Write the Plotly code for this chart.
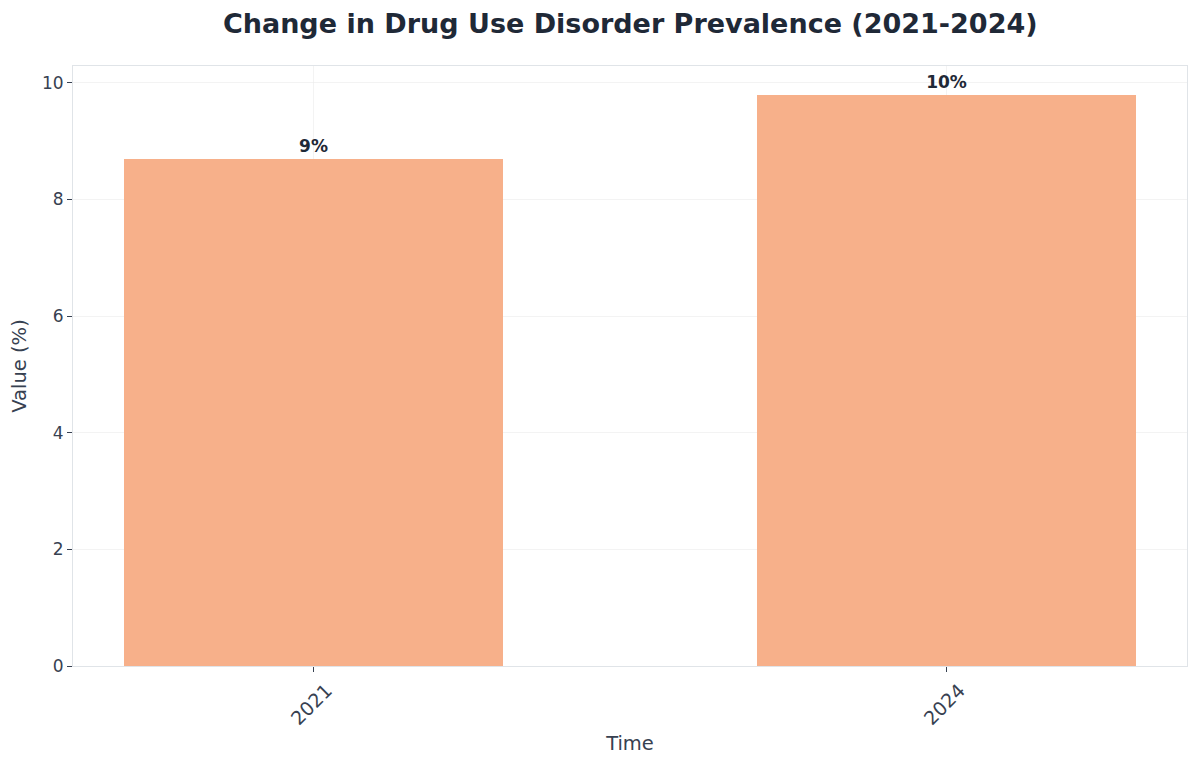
import plotly.graph_objects as go

categories = ["2021", "2024"]
values = [8.7, 9.8]
x_positions = [0, 1]

fig = go.Figure()
fig.add_trace(go.Bar(
    x=x_positions,
    y=values,
    width=0.6,
    marker=dict(color="rgb(247,176,138)", line=dict(width=0)),
    texttemplate="<b>%{y:.0f}%</b>",
    textposition="outside",
    cliponaxis=False,
    textfont=dict(family="DejaVu Sans", size=17, color="#1f2937"),
    hoverinfo="skip",
))

# page body adds an 8px offset; compensate in size and margins
fig.update_layout(
    width=1192, height=760,
    margin=dict(l=65, r=13, t=58, b=102),
    paper_bgcolor="white",
    plot_bgcolor="white",
    font=dict(family="DejaVu Sans", color="#374151", size=17),
    title=dict(
        text="<b>Change in Drug Use Disorder Prevalence (2021-2024)</b>",
        x=0.522, xanchor="center", y=0.980, yanchor="middle",
        font=dict(family="DejaVu Sans", size=27, color="#1f2937"),
    ),
    showlegend=False,
    bargap=0,
)

fig.update_xaxes(
    range=[-0.38, 1.38],
    tickmode="array", tickvals=x_positions, ticktext=categories,
    tickangle=-45,
    ticklabelshift=13,
    tickfont=dict(size=19, color="#374151"),
    ticks="outside", ticklen=5, tickcolor="#374151",
    showgrid=True, gridcolor="rgba(235,235,235,0.6)", gridwidth=1,
    showline=True, linecolor="#e0e4e8", linewidth=1, mirror=True,
    layer="above traces",
    zeroline=False,
    automargin=False,
    title=dict(text="Time", font=dict(size=19.5, color="#374151"), standoff=8),
)
fig.update_yaxes(
    range=[0, 10.29],
    tickvals=[0, 2, 4, 6, 8, 10],
    tickfont=dict(size=17, color="#374151"),
    ticks="outside", ticklen=5, tickcolor="#374151",
    showgrid=True, gridcolor="rgba(235,235,235,0.6)", gridwidth=1,
    showline=True, linecolor="#e0e4e8", linewidth=1, mirror=True,
    layer="above traces",
    zeroline=False,
    automargin=False,
    title=dict(text="Value (%)", font=dict(size=19.5, color="#374151"), standoff=10),
)

fig.write_html("out.html")
